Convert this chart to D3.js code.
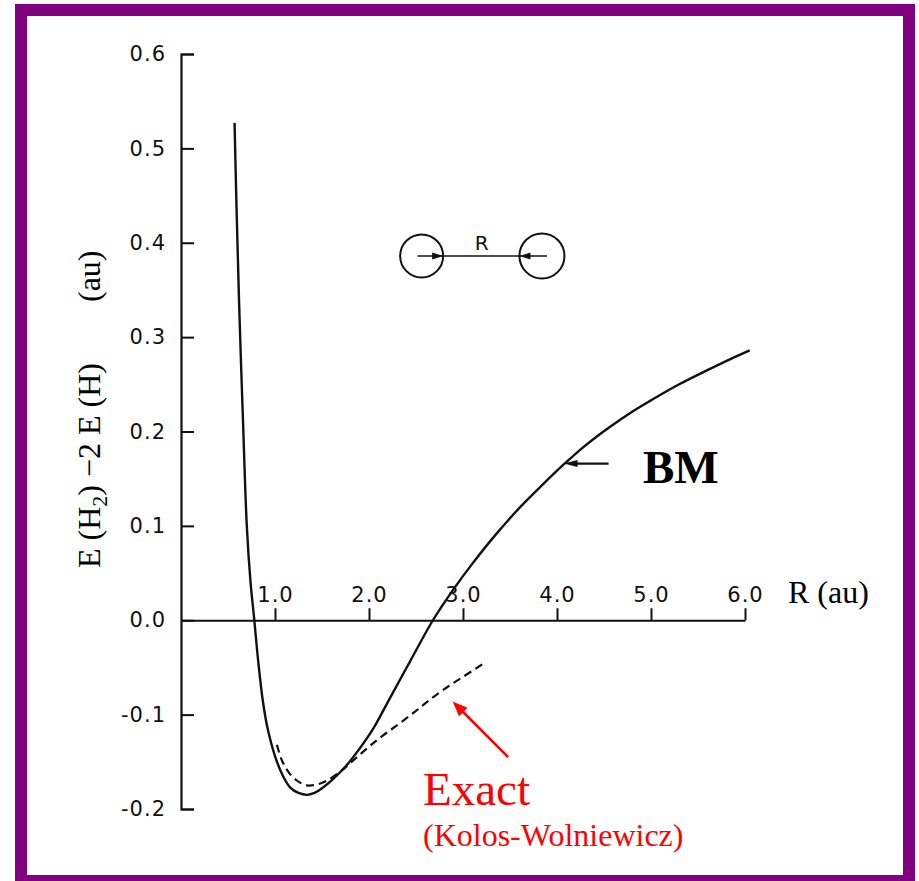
<!DOCTYPE html>
<html>
<head>
<meta charset="utf-8">
<script src="https://cdn.jsdelivr.net/npm/d3@7"></script>
<style>
  html, body { margin: 0; padding: 0; background: #fff; }
  svg { display: block; }
</style>
</head>
<body>
<svg id="chart" width="919" height="881"></svg>
<script>
// ---------- data ----------
const bmR = [0.57, 0.59, 0.62, 0.66, 0.70, 0.74, 0.78, 0.82, 0.87, 0.92, 1.00, 1.08, 1.16, 1.25, 1.34, 1.42, 1.50, 1.62, 1.75, 1.90, 2.05, 2.22, 2.44, 2.68, 2.90, 3.10, 3.35, 3.60, 3.85, 4.06, 4.30, 4.55, 4.80, 5.00, 5.30, 5.60, 5.85, 6.05];
const bmE = [0.527, 0.44, 0.33, 0.21, 0.10, 0.04, 0.0, -0.042, -0.085, -0.114, -0.144, -0.164, -0.177, -0.183, -0.185, -0.183, -0.178, -0.168, -0.155, -0.136, -0.114, -0.083, -0.043, 0.0, 0.033, 0.060, 0.091, 0.119, 0.144, 0.164, 0.185, 0.204, 0.221, 0.233, 0.250, 0.265, 0.277, 0.286];

const exactR = [1.02, 1.08, 1.16, 1.25, 1.34, 1.45, 1.55, 1.70, 1.85, 2.00, 2.15, 2.33, 2.50, 2.65, 2.83, 3.00, 3.23];
const exactE = [-0.132, -0.150, -0.163, -0.171, -0.175, -0.174, -0.170, -0.160, -0.147, -0.134, -0.122, -0.109, -0.096, -0.084, -0.071, -0.060, -0.045];

const xTicks = [1, 2, 3, 4, 5, 6];
const xTickLabels = ["1.0", "2.0", "3.0", "4.0", "5.0", "6.0"];
const yTicks = [-0.2, -0.1, 0.0, 0.1, 0.2, 0.3, 0.4, 0.5, 0.6];
const yTickLabels = ["-0.2", "-0.1", "0.0", "0.1", "0.2", "0.3", "0.4", "0.5", "0.6"];

// ---------- setup ----------
const svg = d3.select("#chart");
const x = d3.scaleLinear().domain([0, 6]).range([181, 745]);
const y = d3.scaleLinear().domain([-0.2, 0.6]).range([809, 54]);

const tickFont = "'DejaVu Sans', sans-serif";
const serif = "'Liberation Serif', 'Times New Roman', serif";

// purple frame
svg.append("rect")
  .attr("x", 21).attr("y", 10).attr("width", 888).attr("height", 871)
  .attr("fill", "none").attr("stroke", "#800080").attr("stroke-width", 12);

// ---------- axes ----------
const yAxis = svg.append("g")
  .attr("transform", `translate(${x(0)},0)`)
  .call(d3.axisLeft(y).tickValues(yTicks).tickFormat((d, i) => yTickLabels[i])
    .tickSizeInner(-13).tickSizeOuter(-13).tickPadding(15));

const xAxis = svg.append("g")
  .attr("transform", `translate(0,${y(0)})`)
  .call(d3.axisTop(x).tickValues(xTicks).tickFormat((d, i) => xTickLabels[i])
    .tickSizeInner(12).tickSizeOuter(0).tickPadding(6));

[yAxis, xAxis].forEach(g => {
  g.selectAll("path.domain").attr("stroke", "#111").attr("stroke-width", 2.2);
  g.selectAll(".tick line").attr("stroke", "#111").attr("stroke-width", 2);
  g.selectAll(".tick text")
    .attr("fill", "#111")
    .style("font-family", tickFont)
    .style("font-size", "21px")
    .style("letter-spacing", "1px");
});

// ---------- curves ----------
const line = d3.line().x(d => x(d[0])).y(d => y(d[1])).curve(d3.curveCatmullRom.alpha(0.5));

svg.append("path")
  .datum(bmR.map((r, i) => [r, bmE[i]]))
  .attr("d", line)
  .attr("fill", "none").attr("stroke", "#111").attr("stroke-width", 2.4);

svg.append("path")
  .datum(exactR.map((r, i) => [r, exactE[i]]))
  .attr("d", line)
  .attr("fill", "none").attr("stroke", "#111").attr("stroke-width", 2.2)
  .attr("stroke-dasharray", "8,5");

// ---------- annotations ----------
function arrowHead(tipX, tipY, angle, len, half, color) {
  const ca = Math.cos(angle), sa = Math.sin(angle);
  const bx = tipX - len * ca, by = tipY - len * sa;
  const pts = [[tipX, tipY], [bx - half * sa, by + half * ca], [bx + half * sa, by - half * ca]];
  svg.append("polygon").attr("points", pts.map(p => p.join(",")).join(" ")).attr("fill", color);
}

// BM arrow
const bmTipX = x(4.07), bmTipY = y(0.166);
svg.append("line").attr("x1", bmTipX + 6).attr("y1", bmTipY).attr("x2", bmTipX + 45).attr("y2", bmTipY)
  .attr("stroke", "#111").attr("stroke-width", 2.2);
arrowHead(bmTipX, bmTipY, Math.PI, 14, 3.5, "#111");

svg.append("text").attr("x", 643).attr("y", 483).text("BM")
  .style("font-family", serif).style("font-weight", "bold").style("font-size", "47px").attr("fill", "#000");

// R (au)
svg.append("text").attr("x", 788).attr("y", 603).text("R (au)")
  .style("font-family", serif).style("font-size", "32px").attr("fill", "#000");

// Exact arrow (red)
const exTip = [x(2.89), y(-0.086)], exTail = [x(3.48), y(-0.145)];
const exAng = Math.atan2(exTip[1] - exTail[1], exTip[0] - exTail[0]);
svg.append("line").attr("x1", exTail[0]).attr("y1", exTail[1])
  .attr("x2", exTip[0] - 10 * Math.cos(exAng)).attr("y2", exTip[1] - 10 * Math.sin(exAng))
  .attr("stroke", "#ff0000").attr("stroke-width", 2.5);
arrowHead(exTip[0], exTip[1], exAng, 15, 6, "#ff0000");

svg.append("text").attr("x", 423).attr("y", 805).text("Exact")
  .style("font-family", serif).style("font-size", "47px").attr("fill", "#ff0000");
svg.append("text").attr("x", 423).attr("y", 846).text("(Kolos-Wolniewicz)")
  .style("font-family", serif).style("font-size", "32px").attr("fill", "#ff0000");

// Y axis title
const yt = svg.append("text").attr("transform", "translate(100,568) rotate(-90)")
  .style("font-family", serif).style("font-size", "32px").attr("fill", "#000");
yt.append("tspan").text("E (H");
yt.append("tspan").text("2").attr("dy", 7).style("font-size", "22px");
yt.append("tspan").text(") \u22122 E (H)").attr("dy", -7);
svg.append("text").attr("transform", "translate(100,302) rotate(-90)")
  .style("font-family", serif).style("font-size", "32px").attr("fill", "#000").text("(au)");

// Molecule diagram
const molY = y(0.386), molL = x(2.56), molRt = x(3.84), rad = 21.5;
svg.append("circle").attr("cx", molL).attr("cy", molY).attr("r", rad)
  .attr("fill", "none").attr("stroke", "#111").attr("stroke-width", 2);
svg.append("circle").attr("cx", molRt).attr("cy", molY).attr("r", rad + 1)
  .attr("fill", "none").attr("stroke", "#111").attr("stroke-width", 2);
svg.append("line").attr("x1", molL - 4).attr("y1", molY).attr("x2", molRt + 5).attr("y2", molY)
  .attr("stroke", "#111").attr("stroke-width", 1.6);
arrowHead(molL + rad, molY, 0, 11, 3.5, "#111");
arrowHead(molRt - rad - 1, molY, Math.PI, 11, 3.5, "#111");
svg.append("text").attr("x", (molL + molRt) / 2).attr("y", molY - 6).attr("text-anchor", "middle")
  .style("font-family", tickFont).style("font-size", "20px").attr("fill", "#111").text("R");
</script>
</body>
</html>
